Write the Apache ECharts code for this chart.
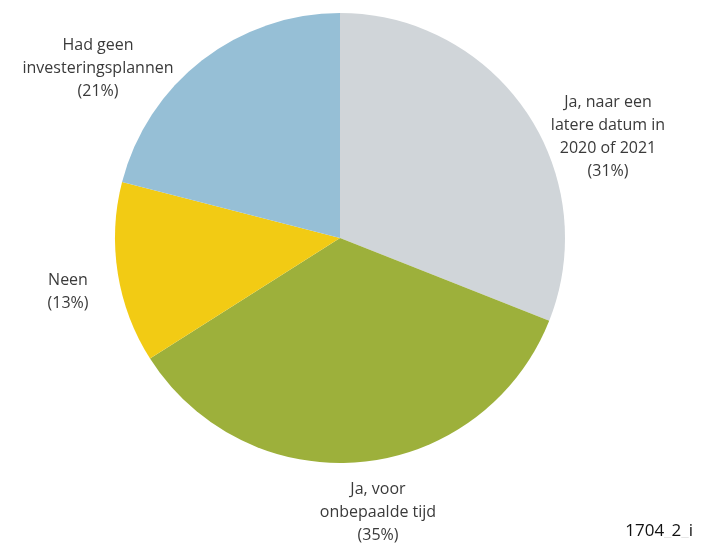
<!DOCTYPE html>
<html lang="nl">
<head>
    <meta charset="UTF-8">
    <title>Investeringsplannen</title>
    <script src="https://cdn.jsdelivr.net/npm/echarts@6/dist/echarts.min.js"></script>
</head>
<style>
    body{
        margin: 0;
        padding: 0;
        background: #fff;
    }
</style>
<body>
<div id="main" style="width: 701px;height:549px;"></div>
<script>
    // data
    var categories = ['Ja, naar een\nlatere datum in\n2020 of 2021', 'Ja, voor\nonbepaalde tijd', 'Neen', 'Had geen\ninvesteringsplannen'];
    var values = [31, 35, 13, 21];
    var colors = ['#d0d5d9', '#9db03b', '#f2cb14', '#96bfd6'];
    // label anchor points (text placement only)
    var labelPos = [[608, 137], [378, 512], [68, 292], [98, 68]];

    var items = [];
    for (var i = 0; i < values.length; i++) {
        items.push({
            name: categories[i],
            value: values[i],
            itemStyle: {color: colors[i]}
        });
    }

    var chart = echarts.init(document.getElementById('main'));
    var option = {
        animation: false,
        series: [{
            type: 'pie',
            center: [340, 238],
            radius: [0, 225],
            startAngle: 90,
            clockwise: true,
            data: items,
            itemStyle: {borderWidth: 0},
            label: {
                show: true,
                position: 'outside',
                formatter: function (p) {
                    return p.name + '\n(' + p.value + '%)';
                },
                fontFamily: 'Open Sans',
                fontSize: 16,
                lineHeight: 23,
                color: '#3a3a3a',
                align: 'center',
                overflow: 'none',
                width: 300
            },
            labelLine: {show: false},
            labelLayout: function (params) {
                var p = labelPos[params.dataIndex];
                return {
                    x: p[0],
                    y: p[1],
                    align: 'center',
                    verticalAlign: 'middle'
                };
            }
        }],
        graphic: [{
            type: 'text',
            right: 8,
            bottom: 9,
            style: {
                text: '1704{u|_}2{u|_}i',
                rich: {u: {fill: '#e6e6e6', fontSize: 17, fontFamily: 'Open Sans'}},
                fontFamily: 'Open Sans',
                fontSize: 17,
                fill: '#111'
            }
        }]
    };
    chart.setOption(option);
</script>
</body>
</html>
